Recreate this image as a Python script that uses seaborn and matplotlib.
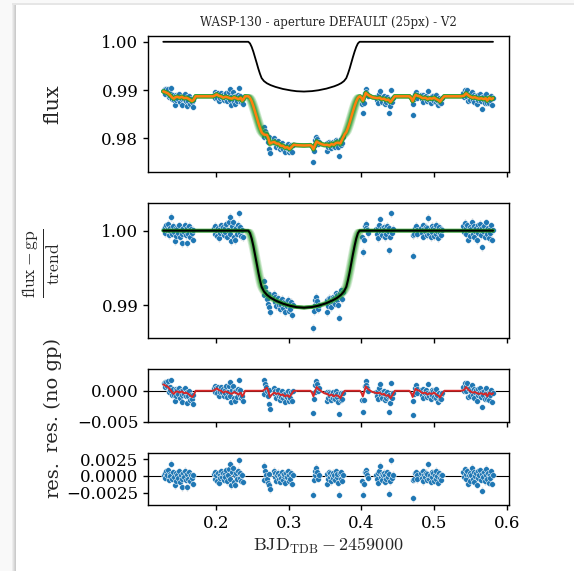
import numpy as np
import pandas as pd
import matplotlib
matplotlib.use("Agg")
import matplotlib.pyplot as plt
from matplotlib.patches import Rectangle
import seaborn as sns

# ---------------------------------------------------------------- data
# exposure mid-times (BJD_TDB - 2459000), one visit window per line
time = np.array([
    0.1280, 0.1292, 0.1303, 0.1315, 0.1327, 0.1339, 0.1350, 0.1362, 0.1374, 0.1385, 0.1397, 0.1409,
    0.1421, 0.1432, 0.1444, 0.1456, 0.1467, 0.1479, 0.1491, 0.1502, 0.1514, 0.1526, 0.1538, 0.1549,
    0.1561, 0.1573, 0.1584, 0.1596, 0.1608, 0.1620, 0.1631, 0.1643, 0.1655, 0.1667, 0.1678, 0.1690,
    0.1970, 0.1981, 0.1993, 0.2004, 0.2016, 0.2027, 0.2039, 0.2050, 0.2061, 0.2073, 0.2084, 0.2096,
    0.2107, 0.2119, 0.2130, 0.2141, 0.2153, 0.2164, 0.2176, 0.2187, 0.2199, 0.2210, 0.2221, 0.2233,
    0.2244, 0.2256, 0.2267, 0.2279, 0.2290, 0.2301, 0.2313, 0.2324, 0.2336, 0.2347, 0.2359, 0.2370,
    0.2655, 0.2666, 0.2678, 0.2689, 0.2700, 0.2711, 0.2723, 0.2734, 0.2745,
    0.2795, 0.2806, 0.2818, 0.2829, 0.2840, 0.2852, 0.2863, 0.2874, 0.2885, 0.2897, 0.2908, 0.2919,
    0.2931, 0.2942, 0.2953, 0.2964, 0.2976, 0.2987, 0.2998, 0.3010, 0.3021, 0.3032, 0.3044, 0.3055,
    0.3335, 0.3346, 0.3356, 0.3367, 0.3378, 0.3389, 0.3399, 0.3410,
    0.3520, 0.3531, 0.3541, 0.3552, 0.3563, 0.3574, 0.3584, 0.3595, 0.3606, 0.3616, 0.3627, 0.3638,
    0.3648, 0.3659, 0.3670, 0.3681, 0.3691, 0.3702, 0.3713, 0.3723, 0.3734, 0.3745,
    0.4015, 0.4026, 0.4036, 0.4047, 0.4058, 0.4068, 0.4079, 0.4090,
    0.4200, 0.4211, 0.4222, 0.4233, 0.4244, 0.4255, 0.4266, 0.4277, 0.4288, 0.4299, 0.4310, 0.4320,
    0.4331, 0.4342, 0.4353, 0.4364, 0.4375, 0.4386, 0.4397, 0.4408, 0.4419, 0.4430,
    0.4705, 0.4716, 0.4727, 0.4737, 0.4748, 0.4759, 0.4770,
    0.4820, 0.4831, 0.4842, 0.4853, 0.4865, 0.4876, 0.4887, 0.4898, 0.4909, 0.4920, 0.4932, 0.4943,
    0.4954, 0.4965, 0.4976, 0.4988, 0.4999, 0.5010, 0.5021, 0.5032, 0.5043, 0.5055, 0.5066, 0.5077,
    0.5088, 0.5099, 0.5110,
    0.5400, 0.5411, 0.5422, 0.5433, 0.5444, 0.5455, 0.5466, 0.5477, 0.5488, 0.5499, 0.5510, 0.5520,
    0.5531, 0.5542, 0.5553, 0.5564, 0.5575, 0.5586, 0.5597, 0.5608, 0.5619, 0.5630, 0.5641, 0.5652,
    0.5663, 0.5674, 0.5685, 0.5696, 0.5707, 0.5718, 0.5729, 0.5740, 0.5751, 0.5762, 0.5773, 0.5784,
    0.5794, 0.5805,
])

# final residuals (data - full model), same order as time
resid = np.array([
    0.0002, 0.0005, -0.0003, 0.0007, 0.0001, 0.0009, -0.0006, 0.0003, 0.0000, 0.0018, -0.0004, 0.0006,
    -0.0002, -0.0014, 0.0004, -0.0007, 0.0002, -0.0003, 0.0007, -0.0009, 0.0001, -0.0005, -0.0017, 0.0004,
    -0.0002, 0.0008, -0.0006, -0.0017, 0.0003, -0.0004, 0.0006, -0.0008, 0.0002, -0.0003, -0.0012, 0.0001,
    0.0003, -0.0004, 0.0006, 0.0001, -0.0007, 0.0004, -0.0010, 0.0002, -0.0003, 0.0007, -0.0001, 0.0005,
    -0.0006, 0.0003, -0.0002, 0.0009, -0.0008, 0.0001, 0.0011, 0.0018, -0.0004, -0.0014, 0.0006, 0.0012,
    -0.0009, 0.0002, -0.0013, 0.0004, -0.0005, 0.0008, 0.0023, -0.0003, 0.0005, -0.0007, 0.0001, -0.0009,
    -0.0006, 0.0015, 0.0008, 0.0002, -0.0005, -0.0011, 0.0003, -0.0014, -0.0020,
    0.0008, -0.0002, 0.0004, -0.0007, 0.0001, 0.0005, -0.0004, -0.0009, 0.0002, -0.0003, 0.0006, -0.0006,
    0.0000, 0.0003, -0.0010, 0.0004, -0.0002, 0.0007, -0.0008, 0.0001, -0.0004, 0.0005, -0.0012, 0.0002,
    -0.0028, -0.0006, 0.0002, 0.0008, 0.0012, 0.0006, -0.0004, 0.0001,
    -0.0012, 0.0003, -0.0005, 0.0006, -0.0001, 0.0004, -0.0008, 0.0001, 0.0005, -0.0003, 0.0002, -0.0006,
    0.0007, -0.0002, 0.0003, -0.0010, -0.0028, 0.0004, -0.0004, 0.0006, -0.0007, 0.0001,
    -0.0008, -0.0028, -0.0012, 0.0006, 0.0009, 0.0004, 0.0001, -0.0003,
    0.0002, -0.0005, 0.0004, -0.0010, 0.0007, 0.0015, -0.0002, 0.0003, -0.0006, 0.0001, 0.0005, -0.0009,
    0.0002, -0.0004, 0.0006, -0.0001, -0.0026, 0.0003, -0.0008, 0.0023, -0.0003, 0.0002,
    -0.0006, -0.0033, -0.0004, 0.0004, 0.0006, 0.0001, -0.0005,
    0.0004, -0.0003, 0.0007, -0.0008, 0.0002, -0.0001, 0.0005, -0.0006, 0.0003, 0.0017, -0.0004, 0.0001,
    -0.0009, 0.0006, -0.0002, 0.0004, -0.0007, 0.0002, 0.0008, -0.0005, 0.0000, -0.0010, 0.0005, -0.0003,
    0.0002, -0.0006, 0.0001,
    0.0006, -0.0002, 0.0010, -0.0005, 0.0003, 0.0008, -0.0012, 0.0001, 0.0005, -0.0007, 0.0002, 0.0012,
    -0.0004, 0.0006, -0.0009, 0.0000, 0.0004, -0.0013, 0.0007, -0.0003, 0.0002, 0.0009, -0.0006, -0.0022,
    0.0003, -0.0001, 0.0006, -0.0008, 0.0001, 0.0011, -0.0005, 0.0004, -0.0010, 0.0002, -0.0003, 0.0007,
    -0.0012, 0.0001,
])
assert len(time) == len(resid)

flux_err = 0.0005      # typical per-exposure uncertainty
trend = 0.9887         # normalisation (baseline) level

# Gaussian-process systematics component
gp_time = [
    0.1275, 0.1280, 0.1310, 0.1340, 0.1370, 0.1400, 0.1420, 0.1440, 0.1470, 0.1500, 0.1530, 0.1560,
    0.1590, 0.1620, 0.1650, 0.1670, 0.1690, 0.1720,
    0.1960, 0.1990, 0.2010, 0.2040, 0.2070, 0.2100, 0.2130, 0.2160, 0.2190, 0.2220, 0.2250, 0.2280,
    0.2310, 0.2340, 0.2360, 0.2380, 0.2400,
    0.2640, 0.2670, 0.2700, 0.2720, 0.2740, 0.2770, 0.2800, 0.2830, 0.2860, 0.2890, 0.2920, 0.2950,
    0.2980, 0.3010, 0.3040, 0.3070,
    0.3300, 0.3320, 0.3340, 0.3365, 0.3385, 0.3410, 0.3450, 0.3490, 0.3530, 0.3560, 0.3590, 0.3620,
    0.3650, 0.3680, 0.3710, 0.3740, 0.3770,
    0.3980, 0.4000, 0.4020, 0.4040, 0.4060, 0.4080, 0.4110, 0.4150, 0.4190, 0.4220, 0.4250, 0.4280,
    0.4310, 0.4340, 0.4370, 0.4400, 0.4430, 0.4460,
    0.4660, 0.4685, 0.4705, 0.4725, 0.4745, 0.4770, 0.4800, 0.4840, 0.4880, 0.4910, 0.4940, 0.4970,
    0.5000, 0.5030, 0.5060, 0.5080, 0.5110, 0.5140,
    0.5370, 0.5410, 0.5440, 0.5470, 0.5500, 0.5530, 0.5560, 0.5590, 0.5620, 0.5650, 0.5680, 0.5710,
    0.5730, 0.5760, 0.5790, 0.5810,
]
gp_level = [
    0.0010, 0.0010, 0.0008, 0.0006, 0.0002, -0.0003, -0.0005, -0.0002, -0.0001, -0.0003, -0.0001, -0.0004,
    -0.0003, -0.0005, -0.0008, -0.0010, -0.0008, 0.0000,
    0.0000, 0.0002, 0.0004, 0.0001, 0.0000, -0.0003, -0.0001, -0.0002, -0.0004, -0.0005, -0.0002, -0.0004,
    -0.0006, -0.0003, -0.0009, -0.0006, 0.0000,
    0.0000, 0.0002, 0.0005, 0.0000, -0.0010, -0.0006, -0.0003, -0.0005, -0.0004, -0.0007, -0.0006, -0.0009,
    -0.0007, -0.0010, -0.0005, 0.0000,
    0.0000, -0.0003, -0.0009, 0.0000, 0.0006, 0.0003, -0.0001, -0.0004, -0.0005, -0.0008, -0.0006, -0.0009,
    -0.0007, -0.0008, -0.0012, -0.0005, 0.0000,
    0.0000, -0.0003, -0.0009, -0.0001, 0.0007, 0.0004, 0.0001, -0.0002, -0.0003, -0.0004, -0.0003, -0.0006,
    -0.0005, -0.0008, -0.0007, -0.0012, -0.0006, 0.0000,
    0.0000, -0.0004, -0.0010, -0.0002, 0.0003, 0.0001, 0.0000, -0.0004, -0.0003, -0.0006, -0.0004, -0.0005,
    -0.0003, -0.0006, -0.0008, -0.0011, -0.0005, 0.0000,
    0.0000, 0.0001, 0.0006, 0.0002, -0.0001, -0.0003, -0.0002, -0.0004, -0.0005, -0.0004, -0.0006, -0.0004,
    -0.0009, -0.0003, -0.0006, -0.0004,
]

# limb-darkened transit model
transit_time = [
    0.1275, 0.2445, 0.24679, 0.24908, 0.25136, 0.25365, 0.25594, 0.25823, 0.26051, 0.2628,
    0.2660, 0.2700, 0.2750, 0.2810, 0.2910, 0.3010, 0.3110, 0.3210, 0.3310, 0.3410, 0.3510,
    0.3610, 0.3670, 0.3720, 0.3760, 0.3792,
    0.38149, 0.38378, 0.38606, 0.38835, 0.39064, 0.39293, 0.39521, 0.3975, 0.5810,
]
transit_flux = [
    1.0, 1.0, 0.99966, 0.99894, 0.99796, 0.99683, 0.99563, 0.99442, 0.99336, 0.99246,
    0.99185, 0.99140, 0.99102, 0.99068, 0.99025, 0.98995, 0.98975, 0.98968, 0.98975, 0.98995, 0.99025,
    0.99068, 0.99102, 0.99140, 0.99185, 0.99246,
    0.99336, 0.99442, 0.99563, 0.99683, 0.99796, 0.99894, 0.99966, 1.0, 1.0,
]

# posterior draws of the mid-transit time, relative to the best fit
sample_shift = [-0.0042, -0.0030, -0.0021, -0.0014, -0.0009, -0.0004, 0.0, 0.0004, 0.0009,
                0.0014, 0.0021, 0.0030, 0.0042]

title = "WASP-130 - aperture DEFAULT (25px) - V2"
x_ticks = [0.2, 0.3, 0.4, 0.5, 0.6]
x_ticklabels = ["0.2", "0.3", "0.4", "0.5", "0.6"]
y1_ticks, y1_labels = [0.98, 0.99, 1.00], ["0.98", "0.99", "1.00"]
y2_ticks, y2_labels = [0.99, 1.00], ["0.99", "1.00"]
y3_ticks, y3_labels = [-0.005, 0.0], ["\u22120.005", "0.000"]
y4_ticks, y4_labels = [-0.0025, 0.0, 0.0025], ["\u22120.0025", "0.0000", "0.0025"]

# ---------------------------------------------------------------- model evaluation
grid = np.unique(np.concatenate([time, gp_time, transit_time]))
transit_grid = np.interp(grid, transit_time, transit_flux)
gp_grid = np.interp(grid, gp_time, gp_level)
transit_pts = np.interp(time, transit_time, transit_flux)
gp_pts = np.interp(time, gp_time, gp_level)

df = pd.DataFrame({
    "time": time,
    "flux": trend * transit_pts + gp_pts + resid,
    "detrended": transit_pts + resid / trend,
    "res_nogp": resid + gp_pts,
    "res": resid,
})

# ---------------------------------------------------------------- styling
sns.set_style("ticks")
plt.rcParams["font.family"] = ["DejaVu Serif"]
plt.rcParams["mathtext.fontset"] = "cm"
plt.rcParams["axes.edgecolor"] = "black"
plt.rcParams["xtick.color"] = "black"
plt.rcParams["ytick.color"] = "black"
plt.rcParams["xtick.major.size"] = 3.5
plt.rcParams["ytick.major.size"] = 3.5

TICK_FS = 12
LABEL_FS = 14
BLUE, ORANGE, GREEN, RED = "#1f77b4", "#ff7f0e", "#2ca02c", "#d62728"

W, H = 574, 571
fig = plt.figure(figsize=(W / 100, H / 100), dpi=100)
fig.patch.set_facecolor("#f9f9f9")

# card with a soft left/top shadow
for i, shade in enumerate(["#ededed", "#e2e2e2", "#d6d6d6", "#cbcbcb"]):
    fig.add_artist(Rectangle(((12 + i) / W, 0), 1 / W, (H - 5) / H,
                             transform=fig.transFigure, color=shade, lw=0, zorder=-10))
fig.add_artist(Rectangle((12 / W, (H - 5) / H), 1 - 12 / W, 1.5 / H,
                         transform=fig.transFigure, color="#e6e6e6", lw=0, zorder=-10))
fig.add_artist(Rectangle((16 / W, 0), 1 - 16 / W, (H - 5) / H,
                         transform=fig.transFigure, color="white", lw=0, zorder=-9))


def frame(top, bottom):
    left, right = 148, 509
    return [left / W, 1 - bottom / H, (right - left) / W, (bottom - top) / H]


ax1 = fig.add_axes(frame(36, 172))
ax2 = fig.add_axes(frame(203, 338), sharex=ax1)
ax3 = fig.add_axes(frame(369, 422), sharex=ax1)
ax4 = fig.add_axes(frame(453, 505), sharex=ax1)

pt_kw = dict(s=17, color=BLUE, edgecolor="white", linewidth=0.35, zorder=3, legend=False)
err_kw = dict(fmt="none", ecolor="#c4c4c4", elinewidth=0.9, alpha=0.8, zorder=2)

# --- raw flux with full model
ax1.errorbar(df["time"], df["flux"], yerr=flux_err, **err_kw)
sns.scatterplot(data=df, x="time", y="flux", ax=ax1, **pt_kw)
for dt in sample_shift:
    ax1.plot(grid, trend * np.interp(grid + dt, transit_time, transit_flux) + gp_grid,
             color=GREEN, alpha=0.22, lw=3.0, zorder=4)
ax1.plot(grid, trend * transit_grid + gp_grid, color=ORANGE, lw=1.8, zorder=5)
ax1.plot(grid, transit_grid, color="black", lw=1.3, zorder=6)
ax1.set_ylim(0.9730, 1.0012)
ax1.set_yticks(y1_ticks, y1_labels)
ax1.set_ylabel("flux", fontsize=LABEL_FS + 1)
ax1.set_title(title, fontsize=8.5, pad=7)

# --- detrended flux with transit model
ax2.errorbar(df["time"], df["detrended"], yerr=flux_err, **err_kw)
sns.scatterplot(data=df, x="time", y="detrended", ax=ax2, **pt_kw)
for dt in sample_shift:
    ax2.plot(grid, np.interp(grid + dt, transit_time, transit_flux),
             color=GREEN, alpha=0.2, lw=2.5, zorder=4)
ax2.plot(grid, transit_grid, color="black", lw=1.5, zorder=6)
ax2.set_ylim(0.98562, 1.0037)
ax2.set_yticks(y2_ticks, y2_labels)
ax2.set_ylabel(r"$\frac{\mathrm{flux}-\mathrm{gp}}{\mathrm{trend}}$", fontsize=18)

# --- residuals without the GP, GP overplotted
ax3.axhline(0, color="black", lw=0.8, zorder=1)
sns.scatterplot(data=df, x="time", y="res_nogp", ax=ax3, **pt_kw)
ax3.plot(grid, gp_grid, color=RED, lw=1.4, zorder=5)
ax3.set_ylim(-0.00502, 0.0035)
ax3.set_yticks(y3_ticks, y3_labels)
ax3.set_ylabel("res. (no gp)", fontsize=LABEL_FS)

# --- final residuals
ax4.axhline(0, color="black", lw=0.8, zorder=1)
ax4.errorbar(df["time"], df["res"], yerr=flux_err, **err_kw)
sns.scatterplot(data=df, x="time", y="res", ax=ax4, **pt_kw)
ax4.set_ylim(-0.0043, 0.0034)
ax4.set_yticks(y4_ticks, y4_labels)
ax4.set_ylabel("res.", fontsize=LABEL_FS)

ax4.set_xlim(0.1065, 0.6030)
ax4.set_xticks(x_ticks, x_ticklabels)
ax4.set_xlabel(r"$\mathrm{BJD}_\mathrm{TDB} - 2459000$", fontsize=13, labelpad=3)

for ax in (ax1, ax2, ax3, ax4):
    ax.tick_params(labelsize=TICK_FS, width=1.0)
    for sp in ax.spines.values():
        sp.set_linewidth(1.0)
        sp.set_color("black")
    ax.yaxis.set_label_coords(-0.238, 0.5)
ax2.yaxis.set_label_coords(-0.238, 0.55)
for ax in (ax1, ax2, ax3):
    ax.tick_params(labelbottom=False)
    ax.set_xlabel("")

fig.savefig("out.png", dpi=100, facecolor=fig.get_facecolor())
